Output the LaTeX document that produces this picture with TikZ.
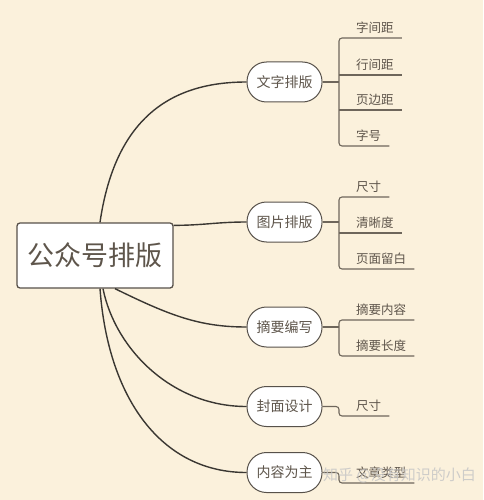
\documentclass[tikz,border=0pt]{standalone}
\usepackage{fontspec}
\setmainfont{Noto Sans CJK SC}
\definecolor{bgc}{HTML}{FBF1DC}
\definecolor{txt}{HTML}{5E554B}
\definecolor{mainline}{HTML}{3A3732}
\definecolor{leafline}{HTML}{6E665B}
\definecolor{nodeborder}{HTML}{57514A}
\tikzset{
  rootbox/.style={draw=nodeborder, line width=1.3pt, fill=white, rounded corners=3pt,
    minimum width=156pt, minimum height=65pt, inner sep=0pt, text=txt,
    font=\fontsize{27pt}{30pt}\selectfont},
  branchbox/.style={draw=nodeborder, line width=1pt, fill=white, rounded corners=19.5pt,
    minimum width=75pt, minimum height=40pt, inner sep=0pt, text=txt,
    font=\fontsize{14pt}{16pt}\selectfont},
  leafbox/.style={anchor=south west, inner xsep=0pt, inner ysep=4pt, text height=9.5pt,
    text depth=1.5pt, text=txt, font=\fontsize{12.5pt}{14pt}\selectfont,
    execute at begin node={\hspace*{17pt}}, execute at end node={\hspace*{8pt}}},
  curve/.style={draw=mainline, line width=1.4pt},
  leafpath/.style={draw=leafline, line width=1.1pt, rounded corners=3pt},
  wmark/.style={text=white!55!gray, opacity=0.85, inner sep=0pt,
    font=\fontsize{15pt}{17pt}\selectfont}
}
\begin{document}
\begin{tikzpicture}[x=1pt,y=-1pt]
\fill[bgc] (0,0) rectangle (483,500);
\useasboundingbox (0,0) rectangle (483,500);

% root and branches
\node[rootbox] (root) at (95,255.5) {公众号排版};
\node[branchbox] (b1) at (284.5,82) {文字排版};
\node[branchbox] (b2) at (284.5,222) {图片排版};
\node[branchbox] (b3) at (284.5,327) {摘要编写};
\node[branchbox] (b4) at (284.5,406.5) {封面设计};
\node[branchbox] (b5) at (284.5,472.5) {内容为主};

% curves
\draw[curve] ([xshift=5pt]root.north) .. controls +(15,-103) and +(-77,0) .. (b1.west);
\draw[curve] ([yshift=-3pt]root.north east) .. controls +(30,0) and +(-30,0) .. (b2.west);
\draw[curve] ([xshift=20pt]root.south) .. controls +(55,27) and +(-47,0) .. (b3.west);
\draw[curve] ([xshift=8pt]root.south) .. controls +(12,60) and +(-75,0) .. (b4.west);
\draw[curve] ([xshift=5pt]root.south) .. controls +(8,110) and +(-85,0) .. (b5.west);

% group 1
\node[leafbox] (l11) at (339,38) {字间距};
\node[leafbox] (l12) at (339,75) {行间距};
\node[leafbox] (l13) at (339,110) {页边距};
\node[leafbox] (l14) at (339,146) {字号};
\draw[leafpath] (l11.south east) -- (l11.south west) -- (l14.south west) -- (l14.south east);
\draw[leafpath] (l12.south west) -- (l12.south east);
\draw[leafpath] (l13.south west) -- (l13.south east);
\draw[leafpath] (b1.east) -- (b1.east -| l11.south west);

% group 2
\node[leafbox] (l21) at (339,197) {尺寸};
\node[leafbox] (l22) at (339,233) {清晰度};
\node[leafbox] (l23) at (339,269) {页面留白};
\draw[leafpath] (l21.south east) -- (l21.south west) -- (l23.south west) -- (l23.south east);
\draw[leafpath] (l22.south west) -- (l22.south east);
\draw[leafpath] (b2.east) -- (b2.east -| l21.south west);

% group 3
\node[leafbox] (l31) at (339,320) {摘要内容};
\node[leafbox] (l32) at (339,356) {摘要长度};
\draw[leafpath] (l31.south east) -- (l31.south west) -- (l32.south west) -- (l32.south east);
\draw[leafpath] (b3.east) -- (b3.east -| l31.south west);

% group 4
\node[leafbox] (l41) at (339,416) {尺寸};
\draw[leafpath] (b4.east) -| (l41.south west) -- (l41.south east);

% group 5
\node[leafbox] (l51) at (339,483) {文章类型};
\draw[leafpath] (b5.east) -| (l51.south west) -- (l51.south east);

% watermark
\node[wmark, anchor=west] (wm) at (323,475) {知乎 @没有知识的小白};
\end{tikzpicture}
\end{document}
